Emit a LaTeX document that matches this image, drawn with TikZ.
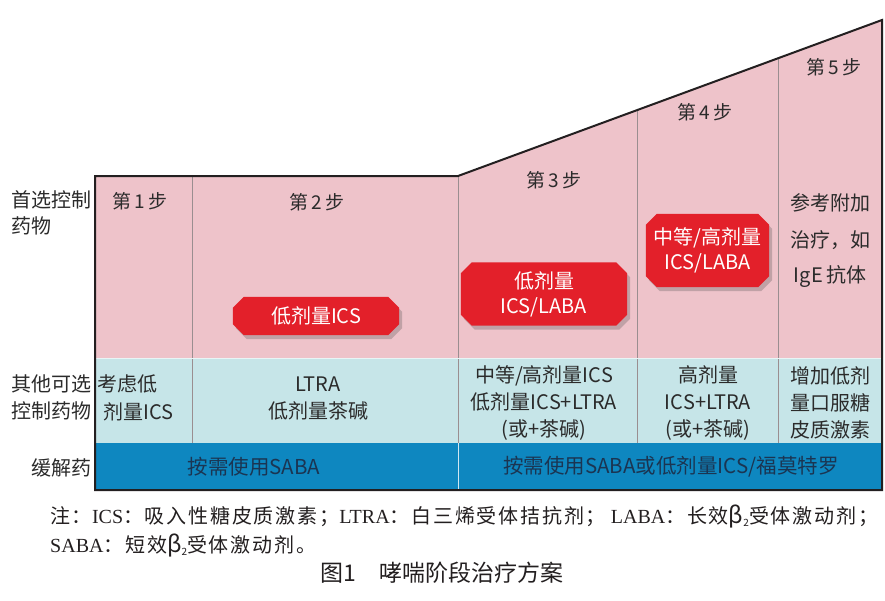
\documentclass[tikz,border=0pt]{standalone}
\usepackage{fontspec}
\setmainfont{Noto Sans CJK SC}
\newfontfamily\serifl{Liberation Serif}
\newfontfamily\notecjk[LetterSpace=9]{Noto Sans CJK SC}
\usetikzlibrary{calc,shadows}
\definecolor{pinkc}{HTML}{EEC3CA}
\definecolor{cyanc}{HTML}{C6E5E8}
\definecolor{bluec}{HTML}{0E87C0}
\definecolor{redc}{HTML}{E3202A}
\definecolor{darkc}{HTML}{231F20}
\definecolor{navyc}{HTML}{1B3552}
\definecolor{txtc}{HTML}{2B2B2B}
\definecolor{divc}{HTML}{9A8E90}
\pgfdeclarelayer{badgebg}
\pgfdeclarelayer{badgetop}
\pgfsetlayers{main,badgebg,badgetop}
\newcommand\badgeshape[1]{%
  \path[badgefill] ($(#1.north west)+(11,0)$) -- ($(#1.north east)+(-11,0)$)
    -- ($(#1.north east)+(0,11)$) -- ($(#1.south east)+(0,-11)$)
    -- ($(#1.south east)+(-11,0)$) -- ($(#1.south west)+(11,0)$)
    -- ($(#1.south west)+(0,-11)$) -- ($(#1.north west)+(0,11)$) -- cycle;}
\newcommand\betatwo{{\fontsize{23}{22}\selectfont β}\raisebox{-0.3ex}{\fontsize{10}{10}\selectfont 2}}
\begin{document}
\begin{tikzpicture}[x=1pt,y=-1pt,
  lbl/.style={font=\fontsize{20}{27}\selectfont, text=txtc, inner sep=0pt, align=center},
  steplbl/.style={font=\fontsize{19}{24}\selectfont, text=txtc, inner sep=0pt},
  reliever/.style={font=\fontsize{20.5}{24}\selectfont, text=navyc, inner sep=0pt},
  badge/.style={rectangle, draw=none, text=white, inner sep=0pt, align=center,
    font=\fontsize{20}{25}\selectfont},
  badgefill/.style={fill=redc, draw=none,
    drop shadow={shadow xshift=3pt, shadow yshift=-4pt, opacity=0.28, fill=black!70}},
  divider/.style={draw=divc, line width=0.5pt},
  notetxt/.style={font=\notecjk\fontsize{20}{22}\selectfont, text=darkc, inner sep=0pt, anchor=west}
]
\useasboundingbox (0,0) rectangle (885,600);
\fill[white] (0,0) rectangle (885,600);
% regions
\fill[pinkc] (95,176) -- (458,176) -- (882,20) -- (882,358) -- (95,358) -- cycle;
\fill[cyanc] (95,358) rectangle (882,443);
\fill[bluec] (95,443) rectangle (882,490);
% dividers
\draw[divider] (192,176) -- (192,443);
\draw[divider] (458,176) -- (458,443);
\draw[draw=white!80!bluec, line width=0.6pt] (458,443) -- (458,490);
\draw[divider] (637,110) -- (637,443);
\draw[divider] (778,58) -- (778,443);
\draw[draw=white!60!cyanc, line width=0.8pt] (95,358) -- (882,358);
% outer border
\draw[darkc, line width=2pt, line join=miter] (95,490) -- (95,176) -- (458,176) -- (882,20) -- (882,490) -- cycle;

% row labels
\node[lbl, anchor=west] (r1a) at (11,200) {首选控制};
\node[lbl, anchor=west] (r1b) at (11,226) {药物};
\node[lbl, anchor=east] (r2a) at (92,384) {其他可选};
\node[lbl, anchor=east] (r2b) at (92,411) {控制药物};
\node[lbl, anchor=east] (r3) at (92,468) {缓解药};

% step labels
\node[steplbl] (s1) at (140,201) {第\,1\,步};
\node[steplbl] (s2) at (317,202) {第\,2\,步};
\node[steplbl] (s3) at (554,180) {第\,3\,步};
\node[steplbl] (s4) at (705,112) {第\,4\,步};
\node[steplbl] (s5) at (834,67) {第\,5\,步};

% badges
\begin{pgfonlayer}{badgetop}
\node[badge, minimum width=166pt, minimum height=38pt] (b1) at (316,316) {低剂量ICS};
\node[badge, minimum width=166pt, minimum height=63pt] (b2) at (544,294) {低剂量\\ICS/LABA};
\node[badge, minimum width=123pt, minimum height=73pt] (b3) at (707.5,250.5) {中等/高剂量\\ICS/LABA};
\end{pgfonlayer}
\begin{pgfonlayer}{badgebg}
\badgeshape{b1}
\badgeshape{b2}
\badgeshape{b3}
\end{pgfonlayer}

% step 5 text
\node[lbl] (t5a) at (830,203) {参考附加};
\node[lbl] (t5b) at (830,240) {治疗，如};
\node[lbl] (t5c) at (830,277) {IgE\,抗体};

% other controller row
\node[lbl, anchor=west] (c1a) at (97,384) {考虑低};
\node[lbl, anchor=west] (c1b) at (103,412) {剂量ICS};
\node[lbl] (c2) at (318,399) {LTRA\\低剂量茶碱};
\node[lbl] (c3) at (544,403) {中等/高剂量ICS\\低剂量ICS+LTRA\\(或+茶碱)};
\node[lbl] (c4) at (708,403) {高剂量\\ICS+LTRA\\(或+茶碱)};
\node[lbl] (c5) at (830,403) {增加低剂\\量口服糖\\皮质激素};

% reliever row
\node[reliever] (rl1) at (254,467) {按需使用SABA};
\node[reliever] (rl2) at (671,467) {按需使用SABA或低剂量ICS/福莫特罗};

% notes
\node[notetxt] (n1) at (50,516) {注：{\serifl ICS}：吸入性糖皮质激素；{\serifl LTRA}：白三烯受体拮抗剂；{\serifl\ LABA}：长效\betatwo 受体激动剂；};
\node[notetxt] (n2) at (50,545) {{\serifl SABA}：短效\betatwo 受体激动剂。};
\node[font=\fontsize{23}{26}\selectfont, text=darkc, inner sep=0pt] (cap) at (442,573) {图1\quad 哮喘阶段治疗方案};
\end{tikzpicture}
\end{document}
